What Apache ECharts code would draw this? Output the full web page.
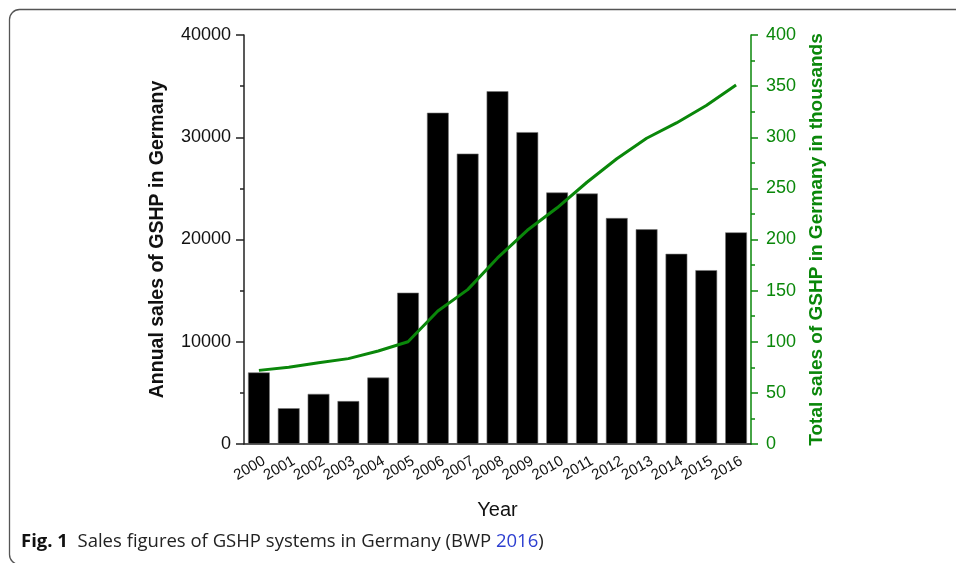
<!DOCTYPE html>
<html>
<head>
<meta charset="utf-8">
<script src="https://cdn.jsdelivr.net/npm/echarts@6/dist/echarts.min.js"></script>
<style>
html,body{margin:0;padding:0;background:#fff;}
#chart{width:956px;height:563px;}
</style>
</head>
<body>
<div id="chart"></div>
<script>
const years = ['2000','2001','2002','2003','2004','2005','2006','2007','2008','2009','2010','2011','2012','2013','2014','2015','2016'];
const annualSales = [7000,3500,4900,4200,6500,14800,32400,28400,34500,30500,24600,24500,22100,21000,18600,17000,20700];
const totalSalesThousands = [72,75,79.5,83.5,91,100,130,151,182,209,231,256,279,299,314,331,351];
const leftAxisName = 'Annual sales of GSHP in Germany';
const rightAxisName = 'Total sales of GSHP in Germany in thousands';
const xAxisName = 'Year';

const font = "'Liberation Sans', Arial, sans-serif";
const capFont = "'Open Sans', sans-serif";
const green = '#0a870a';
const chart = echarts.init(document.getElementById('chart'), null, {renderer:'canvas'});
chart.setOption({
  animation:false,
  backgroundColor:'#fff',
  textStyle:{fontFamily:font},
  grid:{left:244,right:205,top:35,bottom:119,containLabel:false},
  xAxis:[{
    type:'category', data:years, boundaryGap:true,
    name:xAxisName, nameLocation:'middle', nameGap:56,
    nameTextStyle:{fontSize:20,color:'#111',fontFamily:font},
    axisLine:{lineStyle:{color:'#222',width:1.5}},
    axisTick:{alignWithLabel:true,length:6,lineStyle:{color:'#222',width:1.5}},
    axisLabel:{rotate:30,fontSize:15,color:'#111',margin:19,fontFamily:font,interval:0,padding:[0,-6,0,0]}
  },{
    type:'category', data:years, boundaryGap:true, position:'bottom',
    axisLine:{show:false},
    axisTick:{length:4,lineStyle:{color:'#222',width:1.5}},
    axisLabel:{show:false}
  }],
  yAxis:[{
    type:'value', min:0, max:40000, interval:10000,
    name:leftAxisName, nameLocation:'middle', nameGap:76,
    nameTextStyle:{fontSize:19.5,fontWeight:'bold',color:'#111',fontFamily:font},
    axisLine:{show:true,lineStyle:{color:'#222',width:1.5}},
    axisTick:{show:true,length:8,lineStyle:{color:'#222',width:1.5}},
    minorTick:{show:true,splitNumber:2,length:4,lineStyle:{color:'#222',width:1.5}},
    splitLine:{show:false},
    axisLabel:{fontSize:18,color:'#111',margin:13,fontFamily:font,formatter:function(v){return String(v);}}
  },{
    type:'value', min:0, max:400, interval:50, position:'right',
    name:rightAxisName, nameLocation:'middle', nameGap:56,
    nameTextStyle:{fontSize:19,fontWeight:'bold',color:green,fontFamily:font},
    axisLine:{show:true,lineStyle:{color:green,width:1.5}},
    axisTick:{show:true,length:7,lineStyle:{color:green,width:1.5}},
    minorTick:{show:true,splitNumber:2,length:4,lineStyle:{color:green,width:1.5}},
    splitLine:{show:false},
    axisLabel:{fontSize:18,color:green,margin:15,fontFamily:font,formatter:function(v){return String(v);}}
  }],
  series:[{
    type:'bar', data:annualSales, xAxisIndex:0, yAxisIndex:0,
    barWidth:'73%',
    itemStyle:{color:'#000',borderColor:'#777',borderWidth:0.6}
  },{
    type:'line', data:totalSalesThousands, xAxisIndex:0, yAxisIndex:1,
    symbol:'none', lineStyle:{color:green,width:3}, itemStyle:{color:green}, z:5
  }],
  graphic:[{
    type:'rect', silent:true,
    shape:{x:9.5,y:9.5,width:1000,height:555,r:[10,0,0,10]},
    style:{stroke:'#555',lineWidth:1.3,fill:'rgba(0,0,0,0)'}
  },{
    type:'text', left:21, top:532,
    style:{rich:{b:{fontFamily:capFont,fontWeight:'bold',fontSize:18.5,fill:'#111'},r:{fontFamily:capFont,fontSize:18.5,fill:'#222'},l:{fontFamily:capFont,fontSize:18.5,fill:'#2d3fd0'}},
      text:'{b|Fig. 1}{r|  Sales figures of GSHP systems in Germany (BWP }{l|2016}{r|)}'}
  }]
});
</script>
</body>
</html>
